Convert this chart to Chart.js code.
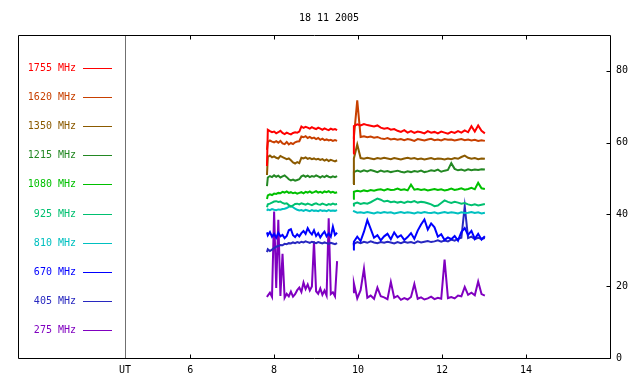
<!DOCTYPE html>
<html>
<head>
<meta charset="utf-8">
<script src="https://cdn.jsdelivr.net/npm/chart.js@4"></script>
<style>
    html, body { margin: 0; padding: 0; background: #fff; }
    canvas { display: block; }
</style>
</head>
<body>
<canvas id="grafico" width="640" height="384"></canvas>
<script>
// ================================================
//  Radio flux records, 18 11 2005 (UT hours)
// ================================================

const TITLE = '18 11 2005';
const UT_POS = 4.45;
const X_TICKS = [6, 8, 10, 12, 14];
const Y_TICKS = [0, 20, 40, 60, 80];

// time of each sample (h UT); the 9.70 slot is the data gap
const hours = [
    7.83, 7.85, 7.90, 7.95, 8.00, 8.05, 8.10, 8.15, 8.20, 8.25, 8.30, 8.35, 8.40, 8.45, 8.50, 8.55, 8.60, 8.65,
    8.70, 8.75, 8.80, 8.85, 8.90, 8.95, 9.00, 9.05, 9.10, 9.15, 9.20, 9.25, 9.30, 9.35, 9.40, 9.45, 9.50,
    9.70,
    9.88, 9.90, 9.98, 10.06, 10.14, 10.22, 10.30, 10.38, 10.46, 10.54, 10.62, 10.70, 10.78, 10.86, 10.94,
    11.02, 11.10, 11.18, 11.26, 11.34, 11.42, 11.50, 11.58, 11.66, 11.74, 11.82, 11.90, 11.98, 12.06,
    12.14, 12.22, 12.30, 12.38, 12.46, 12.54, 12.62, 12.70, 12.78, 12.86, 12.94, 13.02
];

const labels = ['1755 MHz', '1620 MHz', '1350 MHz', '1215 MHz', '1080 MHz',
                '925 MHz', '810 MHz', '670 MHz', '405 MHz', '275 MHz'];
const colors = ['#ff0000', '#c84000', '#8b5a00', '#238823', '#00c000',
                '#00c070', '#00c0c0', '#0000ff', '#2828c0', '#8000c0'];

const f1755 = [
    53.5, 63.6, 63.2, 62.9, 63.1, 62.6, 62.9, 63.3, 62.7, 62.4, 62.8, 62.5, 62.3, 62.7, 62.9, 62.8, 63.1, 64.5,
    64.1, 64.4, 64.2, 63.9, 64.3, 64.0, 63.8, 64.2, 63.9, 63.6, 64.0, 63.7, 63.5, 63.9, 63.6, 63.8, 63.5,
    null,
    57.0, 64.6, 65.1, 64.8, 65.2, 64.9, 64.7, 64.5, 64.8, 64.2, 63.9, 64.1, 63.6, 63.8, 63.3, 63.0, 63.5,
    62.8, 63.2, 62.7, 63.1, 62.9, 62.6, 63.2, 62.8, 63.0, 62.6, 63.1, 62.8, 62.5, 63.0, 62.7, 63.2, 62.8,
    63.4, 62.9, 64.6, 63.1, 64.8, 63.3, 62.6
];
const f1620 = [
    58.0, 60.2, 60.6, 60.3, 60.1, 60.4, 60.0, 60.5, 59.8, 59.6, 60.2, 59.5, 59.9, 59.6, 60.1, 60.3, 60.4, 61.7,
    61.5, 61.8, 61.3, 61.6, 61.2, 61.4, 61.0, 61.3, 60.8, 61.1, 60.7, 60.9, 60.6, 60.8, 60.5, 60.7, 60.5,
    null,
    61.0, 61.5, 71.8, 61.6, 61.8, 61.5, 61.7, 61.4, 61.6, 61.2, 61.0, 61.3, 60.9, 61.1, 60.8, 61.0, 60.7,
    61.0, 60.8, 60.5, 61.0, 60.8, 60.6, 60.9, 61.1, 60.7, 60.9, 60.6, 61.0, 60.8, 60.9, 60.6, 60.8, 61.0,
    60.7, 60.9, 60.6, 60.8, 60.5, 60.7, 60.5
];
const f1350 = [
    51.0, 56.0, 56.4, 55.9, 56.2, 55.8, 55.6, 56.3, 56.0, 55.7, 55.4, 55.6, 55.1, 54.5, 54.2, 54.6, 54.3, 55.8,
    55.6, 55.9, 55.5, 55.7, 55.4, 55.6, 55.3, 55.5, 55.2, 55.4, 55.0, 55.3, 54.9, 55.2, 55.0, 54.8, 55.1,
    null,
    48.5, 55.6, 59.5, 55.7, 55.5, 55.8, 55.6, 55.4, 55.7, 55.5, 55.8, 55.6, 55.4, 55.7, 55.5, 55.3, 55.6,
    55.8, 55.5, 55.7, 55.4, 55.6, 55.3, 55.5, 55.7, 55.4, 55.6, 55.5, 55.3, 55.6, 55.4, 55.7, 55.5, 56.0,
    56.4, 55.8, 55.5, 55.7, 55.4, 55.6, 55.5
];
const f1215 = [
    47.9, 50.3, 50.7, 50.4, 50.9, 50.5, 50.8, 50.3, 50.6, 50.9, 50.4, 49.8, 49.5, 49.7, 49.4, 49.6, 49.8, 50.6,
    50.9, 50.5, 50.8, 50.4, 50.7, 50.5, 50.9, 50.6, 50.3, 50.7, 50.4, 50.8, 50.5, 50.3, 50.6, 50.4, 50.7,
    null,
    48.5, 51.8, 52.2, 51.9, 52.3, 52.0, 52.4, 52.1, 51.8, 52.2, 51.9, 52.1, 51.8, 52.0, 52.2, 51.9, 51.7,
    52.0, 51.8, 52.1, 51.9, 52.2, 51.8, 52.0, 52.3, 52.1, 52.5, 51.9, 52.2, 52.4, 54.3, 52.7, 52.3, 52.5,
    52.2, 52.6, 52.3, 52.5, 52.4, 52.6, 52.5
];
const f1080 = [
    44.3, 45.3, 45.6, 45.4, 45.8, 45.7, 46.0, 45.9, 46.3, 46.1, 46.4, 46.0, 46.2, 45.9, 46.1, 45.8, 46.0, 46.2,
    45.9, 46.3, 46.1, 46.4, 46.0, 46.2, 46.5, 46.1, 46.3, 46.0, 46.4, 46.2, 46.5, 46.1, 46.3, 46.0, 46.2,
    null,
    44.4, 46.3, 46.6, 46.4, 46.7, 46.5, 46.8, 46.6, 46.9, 47.0, 46.7, 47.1, 46.8, 46.9, 47.2, 46.8, 47.0,
    46.7, 48.3, 46.9, 47.1, 46.8, 47.0, 46.7, 46.9, 47.1, 46.8, 47.0, 46.7, 46.9, 47.2, 46.8, 47.0, 47.3,
    46.9, 47.1, 47.4, 47.0, 48.8, 47.3, 47.1
];
const f925 = [
    42.0, 42.8, 43.0, 43.3, 43.6, 43.7, 43.5, 43.6, 43.2, 43.0, 43.1, 42.6, 42.2, 42.5, 42.9, 43.0, 42.8, 43.1,
    42.9, 42.7, 43.0, 42.8, 42.6, 42.9, 43.1, 42.8, 42.7, 43.0, 42.8, 42.6, 42.9, 42.7, 43.0, 42.8, 42.9,
    null,
    42.5, 43.0, 43.3, 42.9, 43.2, 43.0, 43.4, 43.9, 44.4, 44.1, 43.6, 43.8, 43.4, 43.6, 43.3, 43.5, 43.2,
    43.6, 43.4, 43.7, 43.3, 43.5, 43.4, 43.1, 42.8, 42.3, 42.5, 43.2, 43.9, 43.5, 43.2, 43.5, 43.3, 43.0,
    43.2, 42.8, 42.6, 42.8, 42.5, 42.7, 42.9
];
const f810 = [
    41.0, 41.4, 41.2, 41.5, 41.3, 41.2, 41.4, 41.3, 41.5, 41.6, 41.8, 42.1, 42.4, 42.0, 41.6, 41.3, 41.1, 41.2,
    41.0, 41.3, 41.1, 40.9, 41.2, 41.0, 41.1, 40.9, 41.2, 41.0, 41.1, 40.9, 41.2, 41.0, 41.1, 41.0, 41.2,
    null,
    41.0, 40.9, 40.5, 40.6, 40.4, 40.7, 40.5, 40.3, 40.6, 40.4, 40.7, 40.5, 40.6, 40.3, 40.5, 40.7, 40.4,
    40.6, 40.5, 40.3, 40.6, 40.4, 40.7, 40.5, 40.4, 40.6, 40.3, 40.5, 40.7, 40.4, 40.6, 40.5, 40.3, 40.6,
    40.4, 40.5, 40.7, 40.4, 40.6, 40.3, 40.5
];
const f670 = [
    35.0, 34.2, 35.1, 33.8, 34.6, 33.5, 34.9, 33.9, 34.3, 33.4, 34.0, 35.6, 35.9, 34.2, 33.7, 34.5, 33.9, 34.8,
    35.4, 34.6, 36.2, 35.1, 34.4, 35.6, 34.0, 34.8, 33.6, 34.5, 35.2, 33.9, 34.7, 33.8, 36.6, 34.3, 34.9,
    null,
    30.2, 32.4, 33.8, 32.6, 35.2, 38.4, 36.0, 33.5, 34.2, 32.8, 33.9, 34.6, 33.1, 35.0, 33.6, 34.2, 32.9,
    33.7, 34.8, 33.2, 35.5, 37.2, 38.6, 35.8, 37.5, 36.4, 33.8, 34.5, 32.9, 33.6, 33.1, 34.0, 32.7, 35.1,
    36.2, 34.3, 35.4, 33.2, 34.6, 33.0, 33.9
];
const f405 = [
    29.5, 30.3, 29.8, 30.2, 30.6, 31.0, 31.2, 31.5, 31.4, 31.8, 31.7, 32.0, 31.9, 32.2, 32.0, 32.3, 32.1, 32.4,
    32.2, 32.5, 32.3, 32.1, 32.4, 32.2, 32.0, 32.3, 32.1, 31.9, 32.2, 32.0, 31.8, 32.1, 31.9, 31.7, 32.0,
    null,
    32.0, 31.8, 32.3, 32.0, 32.4, 32.1, 32.5, 32.2, 32.0, 32.3, 32.1, 32.4, 32.2, 31.9, 32.3, 32.0, 32.4,
    32.1, 32.3, 32.0, 32.5, 32.2, 32.4, 32.6, 32.3, 32.5, 32.8, 32.4, 32.7, 32.5, 33.0, 32.7, 33.2, 33.5,
    42.3, 33.4, 33.8, 33.1, 33.5, 33.2, 33.4
];
const f275 = [
    17.0, 17.4, 18.2, 17.0, 40.8, 19.5, 38.5, 17.3, 29.0, 16.8, 17.9, 17.2, 18.5, 17.1, 17.8, 18.9, 19.6, 18.4,
    21.0, 19.2, 20.5, 18.8, 19.9, 32.5, 18.6, 17.9, 19.4, 17.6, 18.8, 17.4, 38.9, 17.8, 18.3, 17.2, 27.0,
    null,
    18.3, 20.8, 16.6, 18.9, 24.9, 16.8, 17.4, 16.5, 19.6, 17.2, 16.9, 16.4, 21.2, 16.8, 17.3, 16.2, 16.7,
    16.3, 17.0, 20.6, 16.5, 16.9, 16.3, 16.6, 17.1, 16.4, 16.8, 16.5, 27.4, 16.7, 17.0, 16.6, 17.4, 17.2,
    19.8, 17.6, 18.2, 17.5, 21.3, 17.8, 17.4
];

const series = [f1755, f1620, f1350, f1215, f1080, f925, f810, f670, f405, f275];

const FONT = { family: 'DejaVu Sans Mono', size: 10, weight: 'normal' };

// ------------------------------------------------
// Frame, inner tick marks, UT line and the legend
// ------------------------------------------------
const framePlugin = {
    id: 'frame',
    beforeDatasetsDraw(chart) {
        const { ctx, chartArea: a, scales } = chart;
        const ux = Math.round(scales.x.getPixelForValue(UT_POS)) + 0.5;
        ctx.save();
        ctx.strokeStyle = '#707070';
        ctx.lineWidth = 1;
        ctx.beginPath();
        ctx.moveTo(ux, a.top);
        ctx.lineTo(ux, a.bottom);
        ctx.stroke();
        ctx.restore();
    },
    afterDatasetsDraw(chart) {
        const { ctx, chartArea: a, scales } = chart;
        const L = Math.round(a.left) + 0.5, R = Math.round(a.right) + 0.5;
        const T = Math.round(a.top) + 0.5, B = Math.round(a.bottom) + 0.5;
        ctx.save();
        ctx.strokeStyle = '#000';
        ctx.lineWidth = 1;
        ctx.beginPath();
        ctx.rect(L, T, R - L, B - T);
        X_TICKS.forEach(v => {
            const x = Math.round(scales.x.getPixelForValue(v)) + 0.5;
            ctx.moveTo(x, T); ctx.lineTo(x, T + 4);
            ctx.moveTo(x, B); ctx.lineTo(x, B - 4);
        });
        Y_TICKS.forEach(v => {
            const y = Math.round(scales.y.getPixelForValue(v)) + 0.5;
            ctx.moveTo(R, y); ctx.lineTo(R - 4, y);
        });
        ctx.stroke();

        // legend inside the left part of the frame
        ctx.font = `${FONT.size}px ${FONT.family}`;
        ctx.textAlign = 'right';
        ctx.textBaseline = 'middle';
        chart.data.datasets.forEach((ds, i) => {
            const y = Math.round(a.top + 32.5 + i * 29.2) + 0.5;
            ctx.fillStyle = ds.borderColor;
            ctx.fillText(ds.label, a.left + 58, y);
            ctx.strokeStyle = ds.borderColor;
            ctx.beginPath();
            ctx.moveTo(a.left + 65, y);
            ctx.lineTo(a.left + 94, y);
            ctx.stroke();
        });
        ctx.restore();
    }
};

new Chart(document.getElementById('grafico').getContext('2d'), {
    type: 'line',
    data: {
        datasets: series.map((vals, i) => ({
            label: labels[i],
            data: hours.map((h, j) => ({ x: h, y: vals[j] })),
            borderColor: colors[i],
            backgroundColor: colors[i],
            borderWidth: 2,
            pointRadius: 0,
            tension: 0,
            spanGaps: false,
            fill: false
        }))
    },
    options: {
        responsive: false,
        animation: false,
        devicePixelRatio: 1,
        layout: { padding: { left: 18, top: 0, right: 0, bottom: 0 } },
        plugins: {
            legend: { display: false },
            tooltip: { enabled: false },
            title: {
                display: true,
                text: TITLE,
                color: '#000',
                font: FONT,
                padding: { top: 12, bottom: 11 }
            }
        },
        scales: {
            x: {
                type: 'linear',
                position: 'bottom',
                min: 1.9, max: 16,
                grid: { display: false, drawTicks: false },
                border: { display: false },
                afterBuildTicks: s => { s.ticks = [UT_POS, ...X_TICKS].map(v => ({ value: v })); },
                afterFit: s => { s.height = 26; },
                ticks: {
                    color: '#000',
                    font: FONT,
                    padding: 6,
                    maxRotation: 0,
                    autoSkip: false,
                    callback: v => v === UT_POS ? 'UT' : String(v)
                }
            },
            y: {
                position: 'right',
                min: 0, max: 90,
                grid: { display: false, drawTicks: false },
                border: { display: false },
                afterBuildTicks: s => { s.ticks = Y_TICKS.map(v => ({ value: v })); },
                afterFit: s => { s.width = 30; },
                ticks: { color: '#000', font: FONT, padding: 6 }
            }
        }
    },
    plugins: [framePlugin]
});
</script>
</body>
</html>
